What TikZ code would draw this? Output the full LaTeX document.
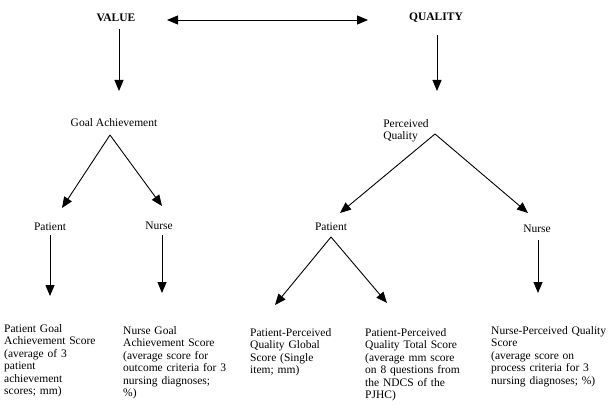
\documentclass[tikz,border=0pt]{standalone}
\usepackage{fontspec}
\setmainfont{Liberation Serif}
\usetikzlibrary{arrows.meta}
\begin{document}
\begin{tikzpicture}[x=1pt,y=-1pt,
  lbl/.style={inner sep=0pt,font=\fontsize{11.5}{12.5}\selectfont},
  head/.style={lbl,font=\fontsize{11.5}{12.5}\selectfont\bfseries},
  box/.style={lbl,anchor=base west,text width=140pt,align=left},
  arr/.style={line width=0.9pt,-{Triangle[length=11pt,width=9pt]}},
  darr/.style={line width=0.9pt,{Triangle[length=11pt,width=9pt]}-{Triangle[length=11pt,width=9pt]}}]
\path[use as bounding box,fill=white] (0,0) rectangle (613,409);

\node[head] (value) at (116,18) {VALUE};
\node[head] (quality) at (436,18) {QUALITY};
\node[lbl] (goal) at (114,123) {Goal Achievement};
\node[lbl,align=left] (pq) at (406,131) {Perceived\\Quality};
\node[lbl] (p1) at (50,227) {Patient};
\node[lbl] (n1) at (159,226) {Nurse};
\node[lbl] (p2) at (331,227) {Patient};
\node[lbl] (n2) at (537,229) {Nurse};

\node[box] (b1) at (4,332) {Patient Goal\\Achievement Score\\(average of 3\\patient\\achievement\\scores; mm)};
\node[box] (b2) at (123,334) {Nurse Goal\\Achievement Score\\(average score for\\outcome criteria for 3\\nursing diagnoses;\\\%)};
\node[box] (b3) at (250,336) {Patient-Perceived\\Quality Global\\Score (Single\\item; mm)};
\node[box] (b4) at (365,336) {Patient-Perceived\\Quality Total Score\\(average mm score\\on 8 questions from\\the NDCS of the\\PJHC)};
\node[box] (b5) at (491,334) {Nurse-Perceived Quality\\Score\\(average score on\\process criteria for 3\\nursing diagnoses; \%)};

\draw[darr] ([shift={(51,2)}]value.center) -- ([shift={(-68,2)}]quality.center);
\draw[arr] ([shift={(3,11)}]value.center) -- ([shift={(5,-32)}]goal.center);
\draw[arr] ([shift={(1,17)}]quality.center) -- ([shift={(31,-40)}]pq.center);

\draw[arr] ([shift={(-4,12)}]goal.center) -- ([shift={(12,-19)}]p1.center);
\draw[arr] ([shift={(-4,12)}]goal.center) -- ([shift={(3,-20)}]n1.center);

\draw[arr] ([shift={(29,3)}]pq.center) -- ([shift={(9,-14)}]p2.center);
\draw[arr] ([shift={(29,3)}]pq.center) -- ([shift={(-9,-16)}]n2.center);

\draw[arr] ([shift={(0,8)}]p1.center) -- ([shift={(46,-36)}]b1.base west);
\draw[arr] ([shift={(3,9)}]n1.center) -- ([shift={(39,-41)}]b2.base west);
\draw[arr] ([shift={(0,10)}]p2.center) -- ([shift={(25,-31)}]b3.base west);
\draw[arr] ([shift={(0,10)}]p2.center) -- ([shift={(22,-33)}]b4.base west);
\draw[arr] ([shift={(1,11)}]n2.center) -- ([shift={(47,-41)}]b5.base west);
\end{tikzpicture}
\end{document}
